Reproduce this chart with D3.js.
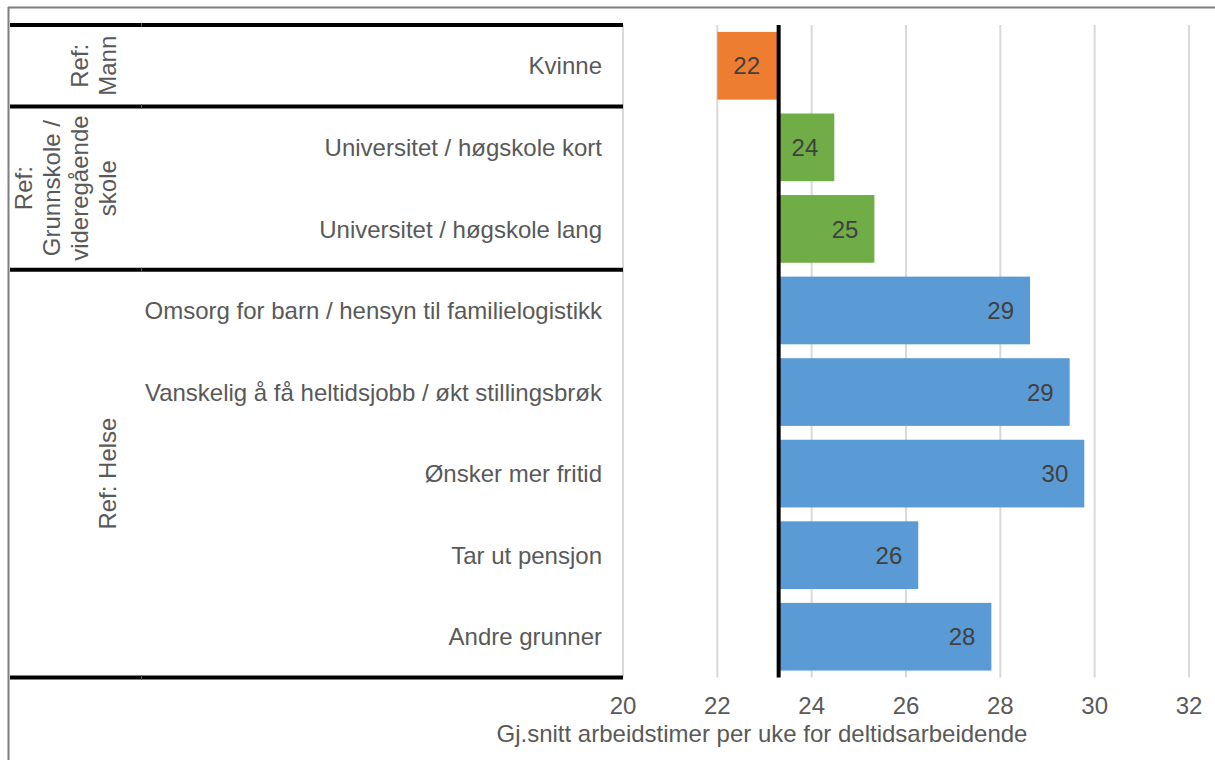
<!DOCTYPE html>
<html>
<head>
  <meta charset="utf-8"/>
  <title>Deltid</title>
  <style>
    body { margin: 0; background: #fff; }
    svg text { font-family: "Liberation Sans", Arial, sans-serif; }
  </style>
  <script src="https://d3js.org/d3.v7.min.js"></script>
</head>
<body>
<div id="chart"></div>
<script>
// data
var categories = ["Kvinne", "Universitet / høgskole kort", "Universitet / høgskole lang",
  "Omsorg for barn / hensyn til familielogistikk", "Vanskelig å få heltidsjobb / økt stillingsbrøk",
  "Ønsker mer fritid", "Tar ut pensjon", "Andre grunner"]
var values = [22.0, 24.48, 25.33, 28.63, 29.47, 29.78, 26.26, 27.81]
var groupOf = [0, 1, 1, 2, 2, 2, 2, 2]
var groupLabels = [["Ref:", "Mann"], ["Ref:", "Grunnskole /", "videregående", "skole"], ["Ref: Helse"]]
var groupColors = ["#ED7D31", "#70AD47", "#5B9BD5"]
var baseValue = 23.3
var xTicks = [20, 22, 24, 26, 28, 30, 32]
var axisTitle = "Gj.snitt arbeidstimer per uke for deltidsarbeidende"

var width = 1215, height = 760
var plotTop = 25, plotBottom = 677.5
var tableLeft = 10, groupColRight = 141, plotLeft = 623, plotRight = 1189

var svg = d3.select("#chart").append("svg")
  .attr("width", width).attr("height", height)

var x = d3.scaleLinear().domain([20, 32]).range([plotLeft, plotRight])
var rows = d3.scaleBand().domain(categories).range([plotTop, plotBottom])
var y = d3.scaleBand().domain(categories).range([plotTop, plotBottom])
  .paddingInner(0.17).paddingOuter(0.085)

// outer frame (gray)
svg.append("line").attr("x1", 8.5).attr("x2", 8.5).attr("y1", 7).attr("y2", height)
  .attr("stroke", "#7f7f7f").attr("stroke-width", 2)
svg.append("line").attr("x1", 8).attr("x2", width).attr("y1", 7.5).attr("y2", 7.5)
  .attr("stroke", "#7f7f7f").attr("stroke-width", 2)

// gridlines
svg.selectAll(".grid").data(xTicks).enter().append("line")
  .attr("x1", d => x(d)).attr("x2", d => x(d))
  .attr("y1", plotTop).attr("y2", plotBottom)
  .attr("stroke", "#d9d9d9").attr("stroke-width", 2)

// bars
svg.selectAll(".bar").data(values).enter().append("rect")
  .attr("x", d => Math.min(x(d), x(baseValue)))
  .attr("width", d => Math.abs(x(d) - x(baseValue)))
  .attr("y", (d, i) => y(categories[i]))
  .attr("height", y.bandwidth())
  .attr("fill", (d, i) => groupColors[groupOf[i]])

// data labels, inside end
svg.selectAll(".lbl").data(values).enter().append("text")
  .attr("x", d => d >= baseValue ? x(d) - 16 : x(d) + 16)
  .attr("y", (d, i) => y(categories[i]) + y.bandwidth() / 2)
  .attr("dy", "0.36em")
  .attr("text-anchor", d => d >= baseValue ? "end" : "start")
  .attr("font-size", 24).attr("fill", "#404040")
  .text(d => Math.round(d))

// baseline
svg.append("line").attr("x1", x(baseValue)).attr("x2", x(baseValue))
  .attr("y1", plotTop).attr("y2", plotBottom)
  .attr("stroke", "#000").attr("stroke-width", 4)

// category labels
svg.selectAll(".cat").data(categories).enter().append("text")
  .attr("x", 602)
  .attr("y", d => rows(d) + rows.bandwidth() / 2)
  .attr("dy", "0.36em")
  .attr("text-anchor", "end")
  .attr("font-size", 24).attr("fill", "#595959")
  .text(d => d)

// group boundaries
var bounds = [plotTop]
groupLabels.forEach(function(g, gi) {
  var last = categories[groupOf.lastIndexOf(gi)]
  bounds.push(rows(last) + rows.bandwidth())
})
bounds.forEach(function(b) {
  svg.append("line").attr("x1", tableLeft).attr("x2", plotLeft).attr("y1", b).attr("y2", b)
    .attr("stroke", "#000").attr("stroke-width", 4)
  svg.append("line").attr("x1", groupColRight + 0.5).attr("x2", groupColRight + 0.5)
    .attr("y1", b - 2).attr("y2", b + 2)
    .attr("stroke", "#555").attr("stroke-width", 1)
})

// group labels (rotated)
groupLabels.forEach(function(lines, gi) {
  var cy = (bounds[gi] + bounds[gi + 1]) / 2
  var lastBase = 116
  var t = svg.append("text")
    .attr("transform", "translate(0," + cy + ") rotate(-90)")
    .attr("text-anchor", "middle")
    .attr("font-size", 24).attr("fill", "#595959")
  lines.forEach(function(l, li) {
    t.append("tspan").attr("x", 0)
      .attr("y", lastBase - (lines.length - 1 - li) * 28)
      .text(l)
  })
})

// x axis tick labels
svg.selectAll(".tick").data(xTicks).enter().append("text")
  .attr("x", d => x(d)).attr("y", 714)
  .attr("text-anchor", "middle")
  .attr("font-size", 24).attr("fill", "#595959")
  .text(d => d)

svg.append("text").attr("x", 762).attr("y", 742)
  .attr("text-anchor", "middle")
  .attr("font-size", 24).attr("fill", "#595959")
  .text(axisTitle)
</script>
</body>
</html>
